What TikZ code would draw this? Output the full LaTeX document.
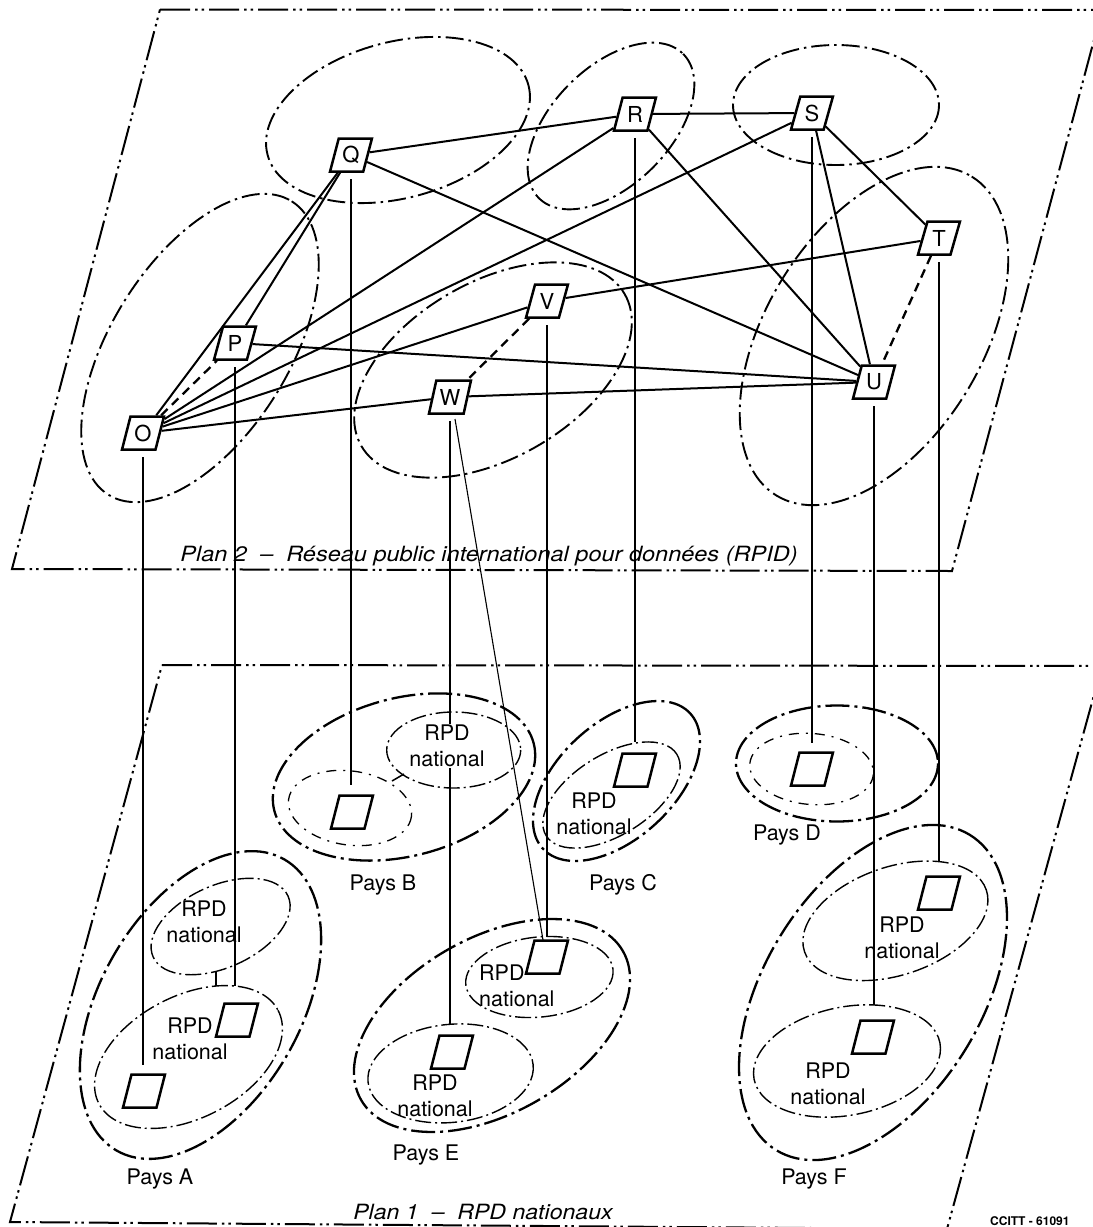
\documentclass[tikz,border=0pt]{standalone}
\usepackage{fontspec}
\setmainfont{TeX Gyre Heros}
\usepackage{graphicx}
\usetikzlibrary{shapes.geometric}
\pgfdeclarelayer{bg}
\pgfsetlayers{bg,main}
\newcommand{\myell}[6]{\draw[#1, rotate around={#6:(#2,#3)}] (#2,#3) ellipse [x radius=#4, y radius=#5];}
\begin{document}
\begin{tikzpicture}[x=1pt,y=-1pt,
  nbox/.style={draw, fill=white, line width=2.5pt, trapezium, trapezium left angle=71, trapezium right angle=109,
    trapezium stretches=true, minimum width=42pt, minimum height=33pt, inner sep=0pt,
    font=\fontsize{22}{22}\selectfont},
  link/.style={line width=2pt},
  dlink/.style={line width=2.3pt, dash pattern=on 9pt off 6pt},
  vline/.style={line width=1.1pt},
  zone/.style={line width=1.9pt, dash pattern=on 18pt off 5pt on 2.5pt off 5pt},
  country/.style={line width=2.3pt, dash pattern=on 24pt off 5pt on 3pt off 5pt},
  rpd/.style={line width=1.4pt, dash pattern=on 16pt off 4pt on 2pt off 4pt},
  dzone/.style={line width=1.3pt, dash pattern=on 10pt off 7pt on 2pt off 7pt},
  plane/.style={line width=2pt, dash pattern=on 30pt off 5pt on 2.5pt off 4pt on 2.5pt off 5pt},
  lbl/.style={font=\fontsize{21.5}{26}\selectfont, align=center, inner sep=1pt},
  plbl/.style={font=\fontsize{21}{21}\selectfont\itshape, inner sep=1pt}]
\useasboundingbox (0,0) rectangle (1093,1227);
\clip (0,0) rectangle (1093,1227);

% ---------- Plan 2 nodes ----------
\node[nbox] (O) at (143,433) {O};
\node[nbox] (P) at (235,343) {P};
\node[nbox] (Q) at (351,155) {Q};
\node[nbox] (R) at (635,114) {R};
\node[nbox] (S) at (812,113) {S};
\node[nbox] (T) at (939,238) {T};
\node[nbox] (U) at (874,382) {U};
\node[nbox] (V) at (547,301) {V};
\node[nbox] (W) at (450,397) {W};

% ---------- Plan 1 boxes ----------
\node[nbox] (bA1) at (237,1020) {\phantom{O}};
\node[nbox] (bA2) at (144,1091) {\phantom{O}};
\node[nbox] (bB) at (352,812) {\phantom{O}};
\node[nbox] (bC) at (635,770) {\phantom{O}};
\node[nbox] (bD) at (812,769) {\phantom{O}};
\node[nbox] (bE1) at (547,957) {\phantom{O}};
\node[nbox] (bE2) at (452,1052) {\phantom{O}};
\node[nbox] (bF1) at (939,893) {\phantom{O}};
\node[nbox] (bF2) at (873,1037) {\phantom{O}};

% ---------- texts ----------
\node[lbl] (tA1) at (204,922) {RPD\\national};
\node[lbl] (tA2) at (190,1039) {RPD\\national};
\node[lbl, fill=white] (tB) at (447,746) {RPD\\national};
\node[lbl] (tC) at (594,814) {RPD\\national};
\node[lbl, align=left, anchor=west] (tE1) at (478,986) {RPD\\national};
\node[lbl] (tE2) at (435,1096) {RPD\\national};
\node[lbl] (tF1) at (902,938) {RPD\\national};
\node[lbl] (tF2) at (828,1084) {RPD\\national};

\node[lbl] (pA) at (160,1179) {Pays A};
\node[lbl] (pB) at (383,885) {Pays B};
\node[lbl] (pC) at (623,885) {Pays C};
\node[lbl] (pD) at (787,835) {Pays D};
\node[lbl] (pE) at (426,1155) {Pays E};
\node[lbl] (pF) at (814,1179) {Pays F};

\node[plbl] (pl2) at (489,556) {\scalebox{1.12}[1]{Plan 2 \ -- \ Réseau public international pour données (RPID)}};
\node[plbl] (pl1) at (483,1212) {\scalebox{1.1}[1]{Plan 1 \ -- \ RPD nationaux}};
\node[font=\fontsize{12}{12}\selectfont\bfseries, anchor=west, inner sep=0pt] (cc) at (990,1221) {CCITT - 61091};

% end points of the vertical connectors
\coordinate (eO) at (143,1065);
\coordinate (eP) at (235,986);
\coordinate (eQ) at (351,785);
\coordinate (eW) at (450,1025);
\coordinate (eV) at (547,937);
\coordinate (eR) at (635,742);
\coordinate (eS) at (812,743);
\coordinate (eU) at (874,1005);
\coordinate (eT) at (939,861);
\coordinate (eWs) at (543,940);
\coordinate (kA1) at (216,971);
\coordinate (kA2) at (216,986);
\coordinate (kB1) at (392,781);
\coordinate (kB2) at (404,774);

\begin{pgfonlayer}{bg}
\fill[white] (0,0) rectangle (1093,1227);
% planes
\draw[plane] (160,9.5) -- (1102,10) -- (952,571) -- (12,569) -- cycle;
\draw[plane] (162,665) -- (1102,666) -- (947,1229) -- (10,1222) -- cycle;
% plan 2 zones
\myell{zone}{200}{348}{173}{89}{58}
\myell{zone}{398}{120}{135}{78}{15}
\myell{zone}{611}{126}{102}{59}{45}
\myell{zone}{836}{105}{103}{60}{0}
\myell{zone}{874}{336}{187}{108}{58.5}
\myell{zone}{493}{370}{152}{88}{30}
% plan 1 countries
\myell{country}{200.5}{1005}{168}{100}{60}
\myell{rpd}{220.6}{926.5}{74}{41}{24.3}
\myell{rpd}{188.5}{1057}{101}{61}{27.5}
\myell{country}{404}{777}{134}{79}{14.6}
\myell{rpd}{453.7}{750}{67}{38}{0}
\myell{dzone}{350}{808}{62}{37}{-8}
\myell{country}{616.5}{781}{100}{58}{42.5}
\myell{rpd}{611.5}{795}{77}{40}{32}
\myell{country}{837}{763.5}{101}{58}{0}
\myell{dzone}{811.6}{769}{62}{35.5}{-5}
\myell{country}{492}{1025.5}{150.6}{87.8}{29.5}
\myell{rpd}{539.4}{977}{74}{40}{6}
\myell{rpd}{450.6}{1073.4}{83}{49}{6}
\myell{country}{873}{992.5}{185}{108.6}{58.4}
\myell{rpd}{895.4}{920.8}{96}{54}{18.8}
\myell{rpd}{847}{1061}{94.7}{54.1}{11.2}
% vertical connectors
\draw[vline] ([yshift=-24pt]O.center) -- (eO);
\draw[vline] ([yshift=-24pt]P.center) -- (eP);
\draw[vline] ([yshift=-24pt]Q.center) -- (eQ);
\draw[vline] ([yshift=-24pt]W.center) -- (eW);
\draw[vline] ([yshift=-24pt]V.center) -- (eV);
\draw[vline] ([yshift=-24pt]R.center) -- (eR);
\draw[vline] ([yshift=-24pt]S.center) -- (eS);
\draw[vline] ([yshift=-24pt]U.center) -- (eU);
\draw[vline] ([yshift=-24pt]T.center) -- (eT);
\draw[vline] ([xshift=5pt,yshift=-22pt]W.center) -- (eWs);
\draw[line width=1.5pt] (kA1) -- (kA2);
\draw[line width=1.5pt] (kB1) -- (kB2);
\end{pgfonlayer}

% ---------- Plan 2 links ----------
\draw[link] (Q) -- (R);
\draw[link] (R) -- (S);
\draw[link] (S) -- (T);
\draw[link] (S) -- (U);
\draw[link] (R) -- (U);
\draw[link] (Q) -- (U);
\draw[link] (Q) -- (P);
\draw[link] (Q) -- (O);
\draw[link] (R) -- (O);
\draw[link] (S) -- (O);
\draw[link] (V) -- (O);
\draw[link] (W) -- (O);
\draw[link] (P) -- (U);
\draw[link] (W) -- (U);
\draw[link] (V) -- (T);
\draw[dlink] (O) -- (P);
\draw[dlink] (V) -- (W);
\draw[dlink] (T) -- (U);
\end{tikzpicture}
\end{document}
